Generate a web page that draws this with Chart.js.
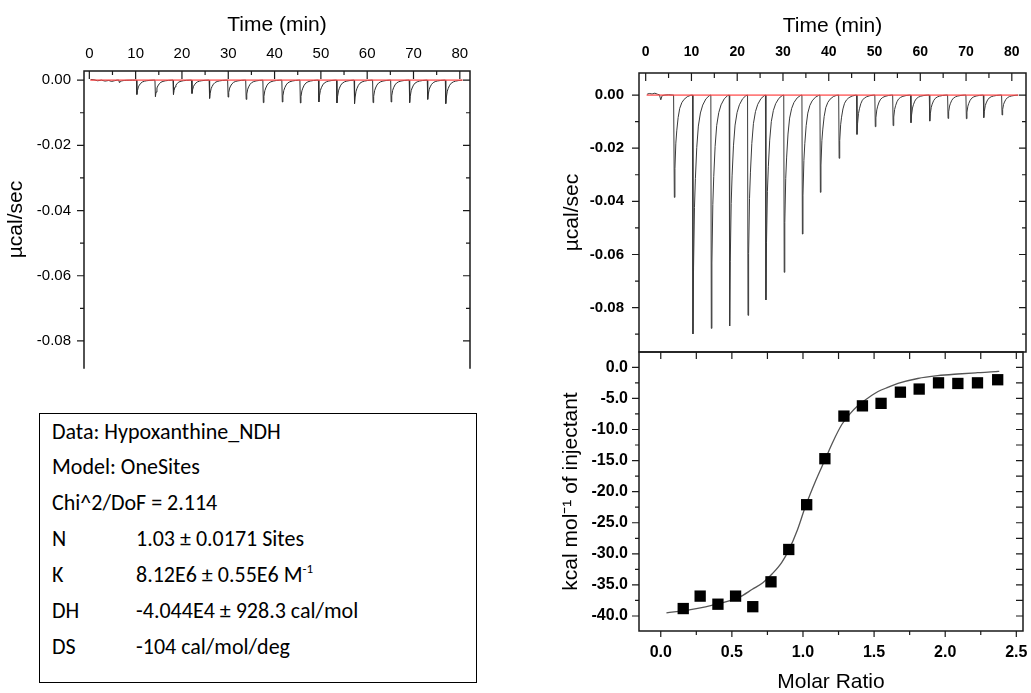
<!DOCTYPE html>
<html><head><meta charset="utf-8">
<script src="https://cdn.jsdelivr.net/npm/chart.js@4.4.1/dist/chart.umd.min.js"></script>
<style>
html,body{margin:0;padding:0;background:#fff;overflow:hidden;width:1031px;height:693px;}
.pane{position:absolute;}
#box{position:absolute;left:39px;top:413px;width:436px;height:268px;border:1.5px solid #000;font-family:Carlito,Lato,"Open Sans",sans-serif;font-size:22px;color:#000;}
.ln{position:absolute;left:12px;white-space:nowrap;line-height:1;}
.v{position:absolute;left:84px;white-space:nowrap;}
sup{font-size:13px;vertical-align:9px;line-height:0;}
</style></head><body>
<div class="pane" style="left:0;top:0"><canvas id="cL" width="480" height="380"></canvas></div>
<div class="pane" style="left:540px;top:0"><canvas id="cR" width="491" height="360"></canvas></div>
<div class="pane" style="left:540px;top:340px"><canvas id="cB" width="491" height="353"></canvas></div>
<div id="box">
  <div class="ln" style="top:6.5px">Data: Hypoxanthine_NDH</div>
  <div class="ln" style="top:41.5px">Model: OneSites</div>
  <div class="ln" style="top:77.5px">Chi^2/DoF = 2.114</div>
  <div class="ln" style="top:113.5px">N<span class="v">1.03 ± 0.0171 Sites</span></div>
  <div class="ln" style="top:149.5px">K<span class="v">8.12E6 ± 0.55E6 M<sup>-1</sup></span></div>
  <div class="ln" style="top:185.5px">DH<span class="v">-4.044E4 ± 928.3 cal/mol</span></div>
  <div class="ln" style="top:221.5px">DS<span class="v">-104 cal/mol/deg</span></div>
</div>
<script>
// ---- tick values ----
const timeTicks = [0,10,20,30,40,50,60,70,80];
const timeMinor = [5,15,25,35,45,55,65,75];
const powerTicks = [0,-0.02,-0.04,-0.06,-0.08];
const powerMinor = [-0.01,-0.03,-0.05,-0.07,-0.09];
const ratioTicks = [0,0.5,1,1.5,2,2.5];
const ratioMinor = [0.25,0.75,1.25,1.75,2.25];
const heatTicks = [0,-5,-10,-15,-20,-25,-30,-35,-40];
const heatMinor = [-2.5,-7.5,-12.5,-17.5,-22.5,-27.5,-32.5,-37.5];

// ---- raw thermogram (left: control) ----
const preLeftT = [0.3,1.0,1.8,2.6,3.4,4.2,4.8,5.4,6.0];
const preLeftV = [0.0002,0.0001,-0.0002,0.0,-0.0003,-0.0001,-0.0004,-0.0002,0.0];
const injTimesLeft = [6.4,10.2,14.2,18.1,22.1,25.9,29.9,33.8,37.5,41.6,45.5,49.5,53.4,57.2,61.2,65.1,69.1,73.0,76.9];
const peakLeft = [-0.0007,-0.0044,-0.0051,-0.0044,-0.0041,-0.0056,-0.0052,-0.0059,-0.0069,-0.0067,-0.0070,-0.0067,-0.0070,-0.0072,-0.0069,-0.0067,-0.0069,-0.0059,-0.0072];
const baselineLeft = [0.2,80.6];

// ---- raw thermogram (right: titration) ----
const preRightT = [0.3,0.8,1.4,2.0,2.6,3.0,3.3,3.6,4.2,5.0,5.8,6.1];
const preRightV = [0.0003,0.0006,0.0004,0.0007,0.0003,0.0001,-0.0018,-0.0002,0.0,0.0001,0.0,0.0];
const injTimesRight = [6.19,10.26,14.27,18.28,22.29,26.2,30.2,34.17,38.1,42.2,46.1,50.1,54.0,57.9,62.0,66.0,70.0,73.8,77.8];
const peakRight = [-0.0385,-0.0899,-0.0878,-0.0869,-0.0829,-0.0771,-0.0667,-0.0523,-0.0366,-0.0238,-0.0148,-0.0119,-0.0115,-0.0104,-0.0098,-0.0088,-0.0089,-0.0085,-0.0075];
const baselineRight = [0.2,81.4];

// injection peak shape (minutes after injection, fraction of peak)
const decayOffsets   = [-0.03,0.07,0.2,0.4,0.6,0.9,1.25,1.7,2.2,2.9,3.6];
const decayFractions = [0,1.0,0.72,0.47,0.35,0.22,0.13,0.075,0.042,0.016,0.003];

// ---- integrated heats ----
const molarRatio = [0.158,0.277,0.402,0.526,0.647,0.775,0.900,1.026,1.154,1.288,1.418,1.549,1.685,1.817,1.953,2.089,2.227,2.369];
const heatPerInj = [-38.8,-36.8,-38.1,-36.8,-38.5,-34.5,-29.3,-22.1,-14.7,-7.85,-6.2,-5.8,-4.0,-3.5,-2.5,-2.6,-2.5,-2.0];
const fitRatio = [0.04,0.2,0.41,0.55,0.644,0.72,0.784,0.85,0.90,0.96,1.017,1.09,1.156,1.21,1.273,1.33,1.389,1.46,1.528,1.6,1.668,1.807,1.947,2.087,2.226,2.354,2.38];
const fitHeat  = [-39.5,-39.0,-38.0,-37.0,-35.7,-34.6,-33.2,-31.4,-29.4,-26.2,-22.4,-18.2,-14.8,-12.0,-9.2,-7.5,-6.1,-4.9,-3.9,-3.2,-2.6,-1.8,-1.35,-1.08,-0.87,-0.7,-0.65];

function buildTrace(preT, preV, inj, peak){
  const pts = preT.map((t,i)=>({x:t,y:preV[i]}));
  inj.forEach((t0,k)=>decayOffsets.forEach((o,j)=>pts.push({x:t0+o,y:peak[k]*decayFractions[j]})));
  return pts;
}
const traceL = buildTrace(preLeftT,preLeftV,injTimesLeft,peakLeft);
const traceR = buildTrace(preRightT,preRightV,injTimesRight,peakRight);

const F = "'Liberation Sans', Arial, Helvetica, sans-serif";
Chart.defaults.font.family = F;
Chart.defaults.color = '#000';

const framePlugin = {
  id:'frame',
  afterDraw(chart, args, opts){
    const {ctx} = chart; const {left,right,top,bottom} = chart.chartArea;
    ctx.save();
    ctx.strokeStyle = '#1a1a1a'; ctx.lineWidth = 1.5; ctx.lineCap='square';
    ctx.beginPath();
    const s = opts.sides;
    if (s.includes('top')){ctx.moveTo(left,top);ctx.lineTo(right,top);}
    if (s.includes('bottom')){ctx.moveTo(left,bottom);ctx.lineTo(right,bottom);}
    if (s.includes('left')){ctx.moveTo(left,top);ctx.lineTo(left,bottom);}
    if (s.includes('right')){ctx.moveTo(right,top);ctx.lineTo(right,bottom);}
    ctx.stroke();
    ctx.lineWidth = 1.2; ctx.lineCap='butt';
    ctx.beginPath();
    for (const t of opts.ticks){
      const sc = chart.scales[t.scale];
      for (const v of t.values){
        const p = sc.getPixelForValue(v);
        const d = t.dir==='in' ? t.len : -t.len;
        if (t.side==='top'){ctx.moveTo(p,top);ctx.lineTo(p,top+d);}
        else if (t.side==='bottom'){ctx.moveTo(p,bottom);ctx.lineTo(p,bottom-d);}
        else if (t.side==='left'){ctx.moveTo(left,p);ctx.lineTo(left+d,p);}
        else {ctx.moveTo(right,p);ctx.lineTo(right-d,p);}
      }
    }
    ctx.stroke();
    ctx.restore();
  }
};
const fixTicks = vals => s => { s.ticks = vals.map(v=>({value:v})); };
const fitH = h => s => { s.height = h; s.paddingLeft = 0; s.paddingRight = 0; s.paddingTop = 0; s.paddingBottom = 0; };
const fitW = w => s => { s.width = w; s.paddingLeft = 0; s.paddingRight = 0; s.paddingTop = 0; s.paddingBottom = 0; };
const noGrid = {display:false, drawTicks:false};
const common = {responsive:false, animation:false, devicePixelRatio:1};
const RED = 'rgba(255,70,70,0.7)';

// Left thermogram
new Chart(document.getElementById('cL'), {
  type:'line',
  data:{datasets:[
    {data:baselineLeft.map(t=>({x:t,y:0})), borderColor:RED, borderWidth:1.8, pointRadius:0},
    {data:traceL, borderColor:'#2e2e2e', borderWidth:1, pointRadius:0}
  ]},
  options:{...common,
    layout:{padding:{left:0,top:0,right:10,bottom:12}},
    plugins:{legend:{display:false},tooltip:{enabled:false},
      frame:{sides:['top','left','right'], ticks:[
        {scale:'x',side:'top',dir:'in',len:8,values:timeTicks},
        {scale:'x',side:'top',dir:'in',len:4,values:timeMinor},
        {scale:'y',side:'left',dir:'out',len:7,values:powerTicks},
        {scale:'y',side:'left',dir:'out',len:4,values:powerMinor.filter(v=>v>-0.088)},
        {scale:'y',side:'right',dir:'in',len:7,values:powerTicks},
        {scale:'y',side:'right',dir:'in',len:4,values:powerMinor.filter(v=>v>-0.088)}
      ]}},
    scales:{
      x:{type:'linear',position:'top',min:-1.15,max:82.2,grid:noGrid,border:{display:false},
        afterBuildTicks:fixTicks(timeTicks), afterFit:fitH(71),
        ticks:{padding:8,font:{size:15},maxRotation:0,autoSkip:false,callback:v=>String(v)},
        title:{display:true,text:'Time (min)',font:{size:21},padding:{top:13,bottom:0}}},
      y:{type:'linear',position:'left',min:-0.0883,max:0.0028,grid:noGrid,border:{display:false},
        afterBuildTicks:fixTicks(powerTicks), afterFit:fitW(84),
        ticks:{padding:13,font:{size:15},callback:v=>v.toFixed(2)},
        title:{display:true,text:'µcal/sec',font:{size:21},padding:{top:4,bottom:0}}}
    }
  },
  plugins:[framePlugin]
});

// Right thermogram
new Chart(document.getElementById('cR'), {
  type:'line',
  data:{datasets:[
    {data:baselineRight.map(t=>({x:t,y:0})), borderColor:RED, borderWidth:1.8, pointRadius:0},
    {data:traceR, borderColor:'#3a3a3a', borderWidth:1, pointRadius:0}
  ]},
  options:{...common,
    layout:{padding:{left:0,top:0,right:5,bottom:8}},
    plugins:{legend:{display:false},tooltip:{enabled:false},
      frame:{sides:['top','left','right','bottom'], ticks:[
        {scale:'x',side:'top',dir:'in',len:8,values:timeTicks},
        {scale:'x',side:'top',dir:'in',len:5,values:timeMinor},
        {scale:'y',side:'left',dir:'out',len:7,values:powerTicks},
        {scale:'y',side:'left',dir:'out',len:4,values:powerMinor},
        {scale:'y',side:'right',dir:'in',len:7,values:powerTicks},
        {scale:'y',side:'right',dir:'in',len:4,values:powerMinor}
      ]}},
    scales:{
      x:{type:'linear',position:'top',min:-1.46,max:83.1,grid:noGrid,border:{display:false},
        afterBuildTicks:fixTicks(timeTicks), afterFit:fitH(73),
        ticks:{padding:12,font:{size:14,weight:'bold'},maxRotation:0,autoSkip:false,callback:v=>String(v)},
        title:{display:true,text:'Time (min)',font:{size:21},padding:{top:14,bottom:0}}},
      y:{type:'linear',position:'left',min:-0.0967,max:0.0083,grid:noGrid,border:{display:false},
        afterBuildTicks:fixTicks(powerTicks), afterFit:fitW(99),
        ticks:{padding:15,font:{size:15,weight:'bold'},callback:v=>v.toFixed(2)},
        title:{display:true,text:'µcal/sec',font:{size:21},padding:{top:20,bottom:0}}}
    }
  },
  plugins:[framePlugin]
});

// Binding isotherm
new Chart(document.getElementById('cB'), {
  type:'scatter',
  data:{datasets:[
    {data:molarRatio.map((x,i)=>({x,y:heatPerInj[i]})), pointStyle:'rect', pointRadius:8, backgroundColor:'#000', borderColor:'#000', borderWidth:0, showLine:false},
    {data:fitRatio.map((x,i)=>({x,y:fitHeat[i]})), showLine:true, pointRadius:0, borderColor:'#555', borderWidth:1.3, cubicInterpolationMode:'monotone'}
  ]},
  options:{...common,
    layout:{padding:{left:0,top:12,right:5,bottom:0}},
    plugins:{legend:{display:false},tooltip:{enabled:false},
      frame:{sides:['top','left','right','bottom'], ticks:[
        {scale:'x',side:'top',dir:'in',len:7,values:ratioTicks},
        {scale:'x',side:'top',dir:'in',len:7,values:ratioMinor},
        {scale:'x',side:'bottom',dir:'out',len:6,values:ratioTicks},
        {scale:'x',side:'bottom',dir:'out',len:4,values:ratioMinor},
        {scale:'y',side:'left',dir:'out',len:7,values:heatTicks},
        {scale:'y',side:'left',dir:'out',len:4,values:heatMinor},
        {scale:'y',side:'right',dir:'in',len:7,values:heatTicks},
        {scale:'y',side:'right',dir:'in',len:7,values:heatMinor}
      ]}},
    scales:{
      x:{type:'linear',position:'bottom',min:-0.153,max:2.547,grid:noGrid,border:{display:false},
        afterBuildTicks:fixTicks(ratioTicks), afterFit:fitH(62),
        ticks:{padding:12,font:{size:16,weight:'bold'},maxRotation:0,autoSkip:false,callback:v=>v.toFixed(1)},
        title:{display:true,text:'Molar Ratio',font:{size:21,lineHeight:1},padding:{top:0,bottom:0}}},
      y:{type:'linear',position:'left',min:-42.41,max:2.46,grid:noGrid,border:{display:false},
        afterBuildTicks:fixTicks(heatTicks), afterFit:fitW(99),
        ticks:{padding:11,font:{size:16,weight:'bold'},callback:v=>v.toFixed(1)},
        title:{display:true,text:'kcal mol⁻¹ of injectant',font:{size:21},padding:{top:19,bottom:0}}}
    }
  },
  plugins:[framePlugin]
});
</script>
</body></html>
